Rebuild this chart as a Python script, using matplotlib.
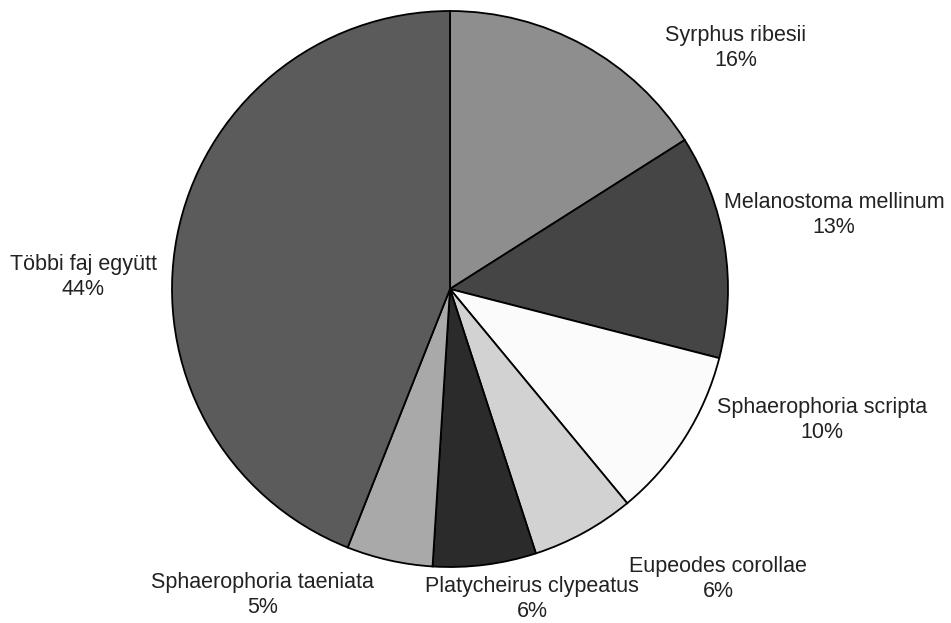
import numpy as np
import matplotlib as mpl
mpl.use('Agg')
import matplotlib.pyplot as plt

species = ['Syrphus ribesii', 'Melanostoma mellinum', 'Sphaerophoria scripta',
           'Eupeodes corollae', 'Platycheirus clypeatus', 'Sphaerophoria taeniata',
           'Többi faj együtt']
share = [16, 13, 10, 6, 6, 5, 44]
grays = ['#8e8e8e', '#454545', '#fbfbfb', '#d2d2d2', '#2b2b2b', '#a9a9a9', '#5b5b5b']

# label centres in pie-radius units
label_xy = [(1.029, 0.867), (1.381, 0.266), (1.338, -0.471), (0.964, -1.043),
            (0.295, -1.115), (-0.673, -1.101), (-1.320, 0.043)]

plt.rcParams['font.family'] = ['Liberation Sans', 'DejaVu Sans']

fig = plt.figure(figsize=(9.51, 6.23), dpi=100)
ax = fig.add_axes([172/951, 56/623, 556/951, 556/623])
ax.pie(share, colors=grays, startangle=90, counterclock=False, radius=1,
       wedgeprops=dict(edgecolor='black', linewidth=1.3))
for name, val, (x, y) in zip(species, share, label_xy):
    ax.text(x, y, f'{name}\n{val}%', ha='center', va='center', fontsize=15.5,
            color='#222222', linespacing=1.2)
ax.set_xlim(-1, 1)
ax.set_ylim(-1, 1)
ax.set_aspect('equal')
ax.axis('off')

fig.savefig('out.png', dpi=100)
